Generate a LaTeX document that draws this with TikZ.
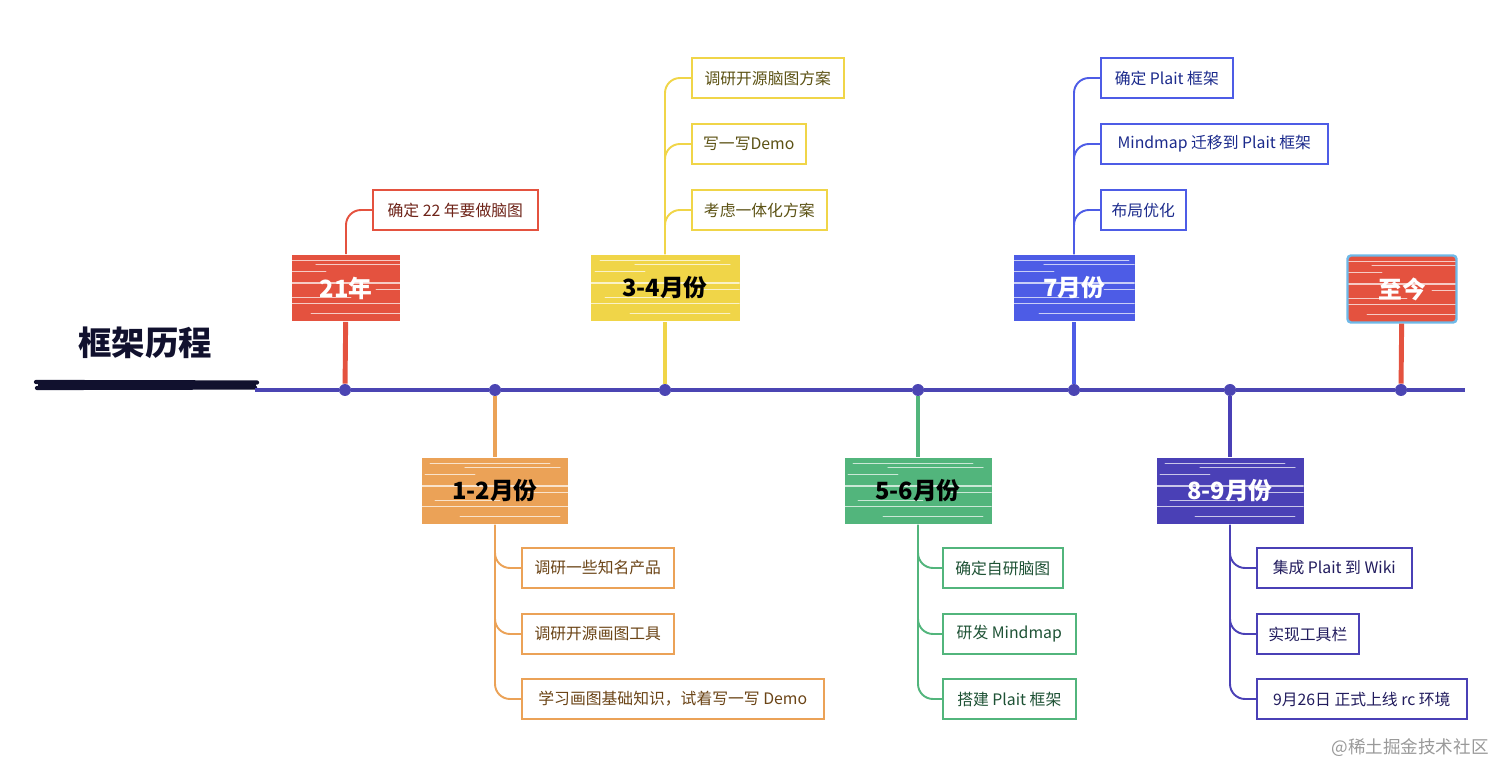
\documentclass[tikz,border=0pt]{standalone}
\usepackage{fontspec}
\setmainfont{Noto Sans CJK SC}
\usetikzlibrary{positioning}
\definecolor{axis}{HTML}{4B45B3}
\definecolor{ink}{HTML}{11112E}
\definecolor{cred}{HTML}{E4523F}
\definecolor{corange}{HTML}{EBA257}
\definecolor{cyellow}{HTML}{F0D548}
\definecolor{cgreen}{HTML}{52B57C}
\definecolor{cblue}{HTML}{4D5CE6}
\definecolor{cindigo}{HTML}{4A40B6}
\definecolor{tred}{HTML}{6E2318}
\definecolor{torange}{HTML}{6B4416}
\definecolor{tyellow}{HTML}{5C5214}
\definecolor{tgreen}{HTML}{1E5235}
\definecolor{tblue}{HTML}{1B2A8C}
\definecolor{tindigo}{HTML}{221C5E}
\definecolor{sel}{HTML}{6EB9E8}

\begin{document}
\begin{tikzpicture}[x=0.02cm,y=-0.02cm,
    wd/.style={minimum width=#1*0.02cm},
    hatch/.style={path picture={
      \foreach \hy/\hx/\hl/\hw in {0.56/-1.3/2.4/0.4, 0.47/-0.6/1.9/0.6, 0.33/-1.4/1.0/0.4,
          0.1/-1.5/3.0/0.8, -0.03/0.6/0.9/0.4, -0.18/-1.2/1.3/0.5, -0.31/-1.5/3.0/1.0, -0.5/-0.7/2.0/0.4}
        \draw[white, opacity=0.7, line width=\hw*1pt, line cap=round]
          ([xshift=\hx*1cm, yshift=\hy*1cm]path picture bounding box.center) -- ++(\hl*1cm,0);
    }},
    topic/.style={rectangle, minimum height=1.34cm, inner sep=0pt, hatch,
      font=\fontsize{13.5}{15}\selectfont\bfseries},
    leaf/.style={draw, line width=0.9pt, fill=white, anchor=west, minimum height=0.8cm,
      inner sep=0pt, font=\fontsize{9}{11}\selectfont},
    dot/.style={circle, fill=axis, minimum size=0.24cm, inner sep=0pt},
    trunk/.style={line width=2.8pt},
    branch/.style={line width=1.1pt, rounded corners=0.3cm}
  ]
  \useasboundingbox (0,0) rectangle (1512,780);

  % title and axis
  \path
  (145,343) node[font=\fontsize{19}{21}\selectfont\bfseries, text=ink] (title) {框架历程}
  (255,390) coordinate (root)
  (1465,390) coordinate (tail)
  (345,390) node[dot] (d1) {}
  (495,390) node[dot] (d2) {}
  (665,390) node[dot] (d3) {}
  (918,390) node[dot] (d4) {}
  (1074,390) node[dot] (d5) {}
  (1230,390) node[dot] (d6) {}
  (1401,390) node[dot] (d7) {}
  ;
  \draw[ink, line width=2.4pt, line cap=round] (36,382) -- (257,382.5);
  \draw[ink, line width=2.4pt, line cap=round] (37,388) -- (255,387.5);
  \draw[ink, line width=2pt] (38,385) -- (256,385);
  \draw[axis, line width=2pt] (root) -- (d1) -- (d2) -- (d3) -- (d4) -- (d5) -- (d6) -- (d7) -- (tail);

  % stages
  \path
  (346,288) node[topic, wd=108, fill=cred, text=white] (y21) {21年}
  (495,491) node[topic, wd=146, fill=corange, text=black] (m12) {1-2月份}
  (665,288) node[topic, wd=149, fill=cyellow, text=black] (m34) {3-4月份}
  (918,491) node[topic, wd=147, fill=cgreen, text=black] (m56) {5-6月份}
  (1074,288) node[topic, wd=121, fill=cblue, text=white] (m7) {7月份}
  (1230,491) node[topic, wd=147, fill=cindigo, text=white] (m89) {8-9月份}
  (1402,289) node[topic, wd=109, fill=cred, text=white, draw=sel, line width=1.4pt,
    rounded corners=2pt] (now) {至今}
  ;

  % items
  \path
  (372,210) node[leaf, wd=165, draw=cred, text=tred] (a1) {确定 22 年要做脑图}
  (521,568) node[leaf, wd=152, draw=corange, text=torange] (b1) {调研一些知名产品}
  (521,634) node[leaf, wd=152, draw=corange, text=torange] (b2) {调研开源画图工具}
  (521,699) node[leaf, wd=302, draw=corange, text=torange] (b3) {学习画图基础知识，试着写一写 Demo}
  (691,78) node[leaf, wd=152, draw=cyellow, text=tyellow] (c1) {调研开源脑图方案}
  (691,144) node[leaf, wd=114, draw=cyellow, text=tyellow] (c2) {写一写Demo}
  (691,210) node[leaf, wd=135, draw=cyellow, text=tyellow] (c3) {考虑一体化方案}
  (942,568) node[leaf, wd=120, draw=cgreen, text=tgreen] (e1) {确定自研脑图}
  (942,634) node[leaf, wd=133, draw=cgreen, text=tgreen] (e2) {研发 Mindmap}
  (942,699) node[leaf, wd=133, draw=cgreen, text=tgreen] (e3) {搭建 Plait 框架}
  (1100,78) node[leaf, wd=132, draw=cblue, text=tblue] (f1) {确定 Plait 框架}
  (1100,144) node[leaf, wd=227, draw=cblue, text=tblue] (f2) {Mindmap 迁移到 Plait 框架}
  (1100,210) node[leaf, wd=85, draw=cblue, text=tblue] (f3) {布局优化}
  (1256,568) node[leaf, wd=155, draw=cindigo, text=tindigo] (g1) {集成 Plait 到 Wiki}
  (1256,634) node[leaf, wd=102, draw=cindigo, text=tindigo] (g2) {实现工具栏}
  (1256,699) node[leaf, wd=210, draw=cindigo, text=tindigo] (g3) {9月26日 正式上线 rc 环境}
  (1410,748) node[font=\fontsize{10}{12}\selectfont, text=black!40] (mark) {@稀土掘金技术社区}
  ;

  \draw[trunk, cred] (d1) -- (y21);
  \draw[trunk, corange] (d2) -- (m12);
  \draw[trunk, cyellow] (d3) -- (m34);
  \draw[trunk, cgreen] (d4) -- (m56);
  \draw[trunk, cblue] (d5) -- (m7);
  \draw[trunk, cindigo] (d6) -- (m89);
  \draw[trunk, cred] (d7) -- (now);

  \draw[branch, cred] (y21.north) |- (a1.west);
  \foreach \n in {b1,b2,b3} \draw[branch, corange] (m12.south) |- (\n.west);
  \foreach \n in {c1,c2,c3} \draw[branch, cyellow] (m34.north) |- (\n.west);
  \foreach \n in {e1,e2,e3} \draw[branch, cgreen] (m56.south) |- (\n.west);
  \foreach \n in {f1,f2,f3} \draw[branch, cblue] (m7.north) |- (\n.west);
  \foreach \n in {g1,g2,g3} \draw[branch, cindigo] (m89.south) |- (\n.west);
\end{tikzpicture}
\end{document}
